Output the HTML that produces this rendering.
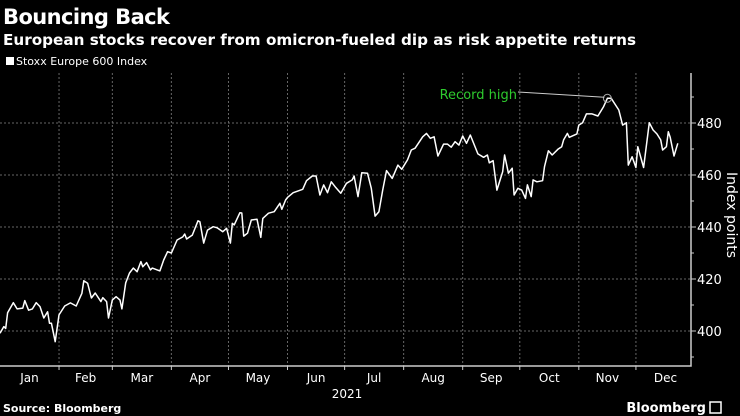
<!DOCTYPE html>
<html><head><meta charset="utf-8"><style>
html,body{margin:0;padding:0;background:#000;}
svg{display:block;font-family:"DejaVu Sans","Liberation Sans",sans-serif;}
</style></head><body>
<svg id="chart" width="740" height="416" viewBox="0 0 740 416">
<rect x="0" y="0" width="740" height="416" fill="#000"/>
<text x="3" y="24" fill="#fff" font-size="21" font-weight="bold" textLength="167">Bouncing Back</text>
<text x="3" y="45" fill="#fff" font-size="15" font-weight="bold" textLength="633" lengthAdjust="spacingAndGlyphs">European stocks recover from omicron-fueled dip as risk appetite returns</text>
<rect x="6" y="57" width="8" height="8" fill="#fff"/>
<text x="16" y="65" fill="#fff" font-size="11">Stoxx Europe 600 Index</text>
<g id="grid"></g>
<g id="axes"></g>
<path id="line" fill="none" stroke="#fff" stroke-width="1.5" stroke-linejoin="round"/>
<g id="annot"></g>
<text x="727" y="215" fill="#fff" font-size="14" text-anchor="middle" transform="rotate(90 727 215)">Index points</text>
<text x="347" y="398" fill="#fff" font-size="12" text-anchor="middle">2021</text>
<text x="3" y="412" fill="#fff" font-size="11" font-weight="bold">Source: Bloomberg</text>
<text x="706" y="412" fill="#fff" font-size="13" font-weight="bold" text-anchor="end">Bloomberg</text>
<rect x="710" y="402" width="11" height="11" fill="none" stroke="#fff" stroke-width="1.5"/>
</svg>
<script>
const days = [0,2,3,4,7,9,12,13,15,17,19,21,23,25,26,27,29,31,34,37,40,43,44,46,48,50,53,54,56,57,59,61,63,64,66,68,70,72,74,75,77,79,80,84,86,88,90,93,96,97,98,101,104,105,107,109,112,114,117,119,121,122,123,126,127,128,130,132,135,137,138,141,144,147,148,150,151,154,159,161,164,166,168,170,172,174,176,179,182,185,186,188,190,193,195,197,199,201,203,206,209,211,214,216,218,222,224,226,228,230,233,235,237,239,241,243,245,247,251,254,256,257,259,261,264,265,267,269,270,272,274,276,277,279,280,282,285,286,288,290,293,295,296,298,299,303,304,306,308,311,314,317,319,321,325,327,329,330,332,334,335,338,341,343,345,347,348,350,351,352,354,356];
const values = [399.1,401.7,401,407,410.9,408.5,408.8,411.7,408,408.5,410.9,409.4,405,407.4,403,403,395.9,406.2,409.6,410.8,409.6,414.5,419.3,418.4,412.7,414.6,411.3,412.8,411.3,405,411.9,413.2,411.9,408.5,418.5,422.3,424.2,422.8,426.7,424.7,426.3,423.5,424.2,423.1,427.3,430.5,430,435,436.2,437.3,435.4,436.9,442.4,442,433.8,438.8,440.1,439.7,438.2,439.5,433.8,441.4,440.8,445.5,445.4,436.5,437.6,442.7,443,436,443.3,445.3,445.9,449.1,446.8,450.4,451.4,453.2,454.5,457.8,459.6,459.6,452.3,456.2,453.2,457.4,455.5,453,456.8,458.1,459.6,451.7,460.9,460.7,454.9,444.2,445.9,454.2,461.7,458.7,463.8,462.2,465.8,469.6,470.3,474.7,476,474.1,474.7,467.3,471.9,471.9,470.7,472.8,471.5,475,472.2,475.4,468.1,466.8,467.7,464.7,465.5,454.2,461.3,467.7,460.7,462.6,452.3,454.9,454.2,451,456.2,451.7,458.1,457.4,457.8,463.2,469.3,467.7,469.9,470.9,473.5,476,474.5,475.8,479.2,480.1,483.5,483.5,482.7,486.3,489.5,489.5,485,479.2,480.1,463.8,467,462.9,470.9,462.9,480.1,477.3,475.8,473.5,469.6,470.9,476.6,474.5,467.3,472.2];
const yTicks = [400,420,440,460,480];
const months = ["Jan","Feb","Mar","Apr","May","Jun","Jul","Aug","Sep","Oct","Nov","Dec"];
const monthStarts = [0,31,59,90,120,151,181,212,243,273,304,334,365];
const recordLabel = "Record high";

const NS="http://www.w3.org/2000/svg";
const X0=0, PXD=1.904, Y400=331, PXU=2.6, AXX=691, AXB=366, AXT=73;
function xs(d){return X0+d*PXD;}
function ys(v){return Y400-(v-400)*PXU;}
function mk(tag,attrs,parent){const e=document.createElementNS(NS,tag);for(const k in attrs)e.setAttribute(k,attrs[k]);parent.appendChild(e);return e;}
const grid=document.getElementById('grid'), axes=document.getElementById('axes');
yTicks.forEach(v=>{
  const g=mk('line',{x1:0,x2:AXX,y1:ys(v),y2:ys(v),stroke:'#666','stroke-width':1,'stroke-dasharray':'2,2'},grid);
  
  
  const t=mk('line',{x1:AXX,x2:AXX+5,y1:ys(v),y2:ys(v),stroke:'#ccc','stroke-width':1},axes);
  
  
  const m=mk('line',{x1:AXX,x2:AXX+3,y1:ys(v+10),y2:ys(v+10),stroke:'#ccc','stroke-width':1},axes);
  
  
  const l=mk('text',{x:AXX+6,y:ys(v)+5,fill:'#fff','font-size':13},axes);
  l.textContent=v;
  
  
});
const mm=mk('line',{x1:AXX,x2:AXX+3,y1:ys(390),y2:ys(390),stroke:'#ccc'},axes);


for(let i=1;i<12;i++){
  const x=xs(monthStarts[i]);
  const g=mk('line',{x1:x,x2:x,y1:AXT,y2:AXB,stroke:'#666','stroke-width':1,'stroke-dasharray':'2,2'},grid);
  
  
  const t=mk('line',{x1:x,x2:x,y1:AXB,y2:AXB+4,stroke:'#ccc'},axes);
  
  
}
months.forEach((m,i)=>{
  const l=mk('text',{x:xs((monthStarts[i]+monthStarts[i+1])/2),y:382,fill:'#fff','font-size':12,'text-anchor':'middle'},axes);
  l.textContent=m;
  
  
});
const ax=mk('path',{d:`M0 ${AXB} H${AXX} V${AXT}`,stroke:'#ccc','stroke-width':1.5,fill:'none'},axes);


document.getElementById('line').setAttribute('d',days.map((d,i)=>(i?'L':'M')+xs(d).toFixed(1)+' '+ys(values[i]).toFixed(1)).join(' '));
let mi=0; values.forEach((v,i)=>{if(v>values[mi])mi=i;});
const an=document.getElementById('annot');
const cx=xs(days[mi]), cy=ys(values[mi]);
const c=mk('circle',{cx:cx,cy:cy,r:4,fill:'none',stroke:'#aaa','stroke-width':1},an);


const ln=mk('line',{x1:518,y1:92,x2:cx-3,y2:cy-1,stroke:'#ccc','stroke-width':1},an);


const at=mk('text',{x:517,y:99,fill:'#2ecc2e','font-size':13,'text-anchor':'end'},an);
at.textContent=recordLabel;


</script>
</body></html>
